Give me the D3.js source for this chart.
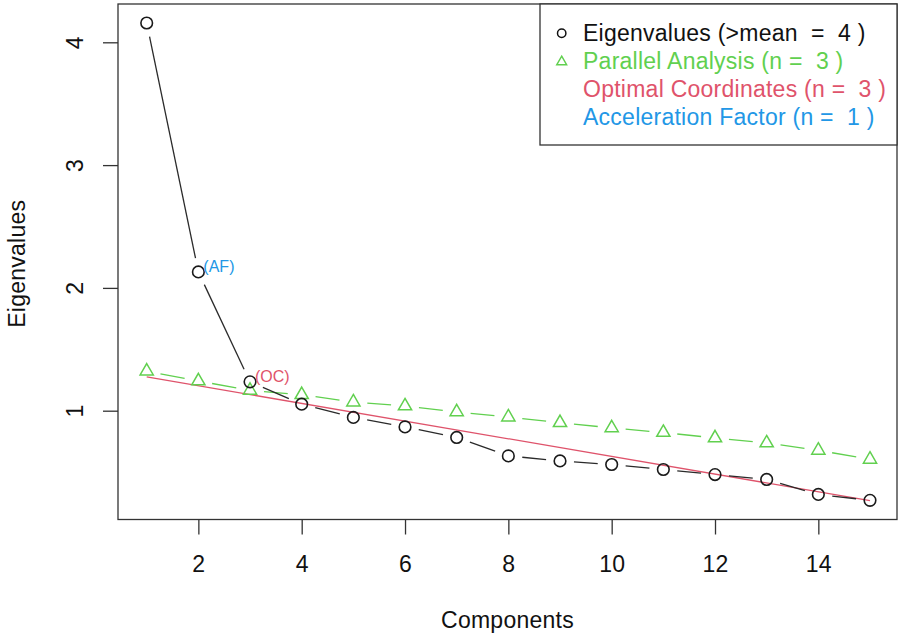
<!DOCTYPE html>
<html>
<head>
<meta charset="utf-8">
<script src="https://cdn.jsdelivr.net/npm/d3@7"></script>
<style>
  html, body { margin: 0; padding: 0; background: #fff; }
  svg { display: block; font-family: "Liberation Sans", Arial, Helvetica, sans-serif; }
  text { white-space: pre; }
</style>
</head>
<body>
<svg id="chart" width="900" height="635"></svg>
<script>
// ---- data ----
const components = [1,2,3,4,5,6,7,8,9,10,11,12,13,14,15];
const eigenvalues = [4.157, 2.13, 1.235, 1.053, 0.945, 0.868, 0.782, 0.632, 0.591, 0.562, 0.521, 0.480, 0.440, 0.318, 0.270];
const parallel = [1.322, 1.242, 1.165, 1.130, 1.070, 1.038, 0.990, 0.948, 0.902, 0.860, 0.822, 0.778, 0.737, 0.677, 0.604];
const ocLineX = [1, 15];
const ocLineY = [1.275, 0.268];
const xTicks = [2,4,6,8,10,12,14];
const yTicks = [1,2,3,4];
const legendLabels = ["Eigenvalues (>mean  =  4 )", "Parallel Analysis (n =  3 )", "Optimal Coordinates (n =  3 )", "Acceleration Factor (n =  1 )"];
const legendSymbols = ["circle", "triangle", "none", "none"];
const legendColors = ["#111111", "#61D04F", "#DF536B", "#2297E6"];
const pointLabels = [{comp: 2, text: "(AF)", color: "#2297E6"}, {comp: 3, text: "(OC)", color: "#DF536B"}];
const xTitle = "Components";
const yTitle = "Eigenvalues";

// ---- layout ----
const svg = d3.select("#chart");
const box = {left: 118, top: 4, right: 897, bottom: 519.5};
const x = d3.scaleLinear().domain([1, 15]).range([146.7, 870]);
const y = d3.scaleLinear().domain([1, 4]).range([410.7, 42.3]);
const FONT = 23, LS = "0.25px";

function trianglePath(cx, cy, half) {
  const xc = half / 1.3468;
  const r = 1.5551 * xc, yc = 0.7776 * xc;
  return `M${cx},${cy - r}L${cx + half},${cy + yc}L${cx - half},${cy + yc}Z`;
}
function gappedSegments(xs, ys, gap) {
  const segs = [];
  for (let i = 0; i < xs.length - 1; i++) {
    const x0 = x(xs[i]), y0 = y(ys[i]), x1 = x(xs[i+1]), y1 = y(ys[i+1]);
    const dx = x1 - x0, dy = y1 - y0, L = Math.hypot(dx, dy);
    if (L <= 2 * gap) continue;
    const ux = dx / L, uy = dy / L;
    segs.push({i, x1: x0 + ux * gap, y1: y0 + uy * gap, x2: x1 - ux * gap, y2: y1 - uy * gap});
  }
  return segs;
}

// ---- OC red line ----
svg.append("path")
  .attr("d", d3.line().x(d => x(d[0])).y(d => y(d[1]))(ocLineX.map((v, i) => [v, ocLineY[i]])))
  .attr("fill", "none").attr("stroke", "#DF536B").attr("stroke-width", 1.3);

// ---- parallel analysis (green dashed, triangles) ----
svg.append("g").selectAll("line").data(gappedSegments(components, parallel, 14)).join("line")
  .attr("x1", d => d.x1).attr("y1", d => d.y1).attr("x2", d => d.x2).attr("y2", d => d.y2)
  .attr("stroke", "#61D04F").attr("stroke-width", 1.3);
svg.append("g").selectAll("path").data(components).join("path")
  .attr("d", (c, i) => trianglePath(x(c), y(parallel[i]), 6.6))
  .attr("fill", "none").attr("stroke", "#61D04F").attr("stroke-width", 1.5);

// ---- eigenvalues (black, circles) ----
svg.append("g").selectAll("line").data(gappedSegments(components, eigenvalues, 14)).join("line")
  .attr("x1", d => d.x1).attr("y1", d => d.y1).attr("x2", d => d.x2).attr("y2", d => d.y2)
  .attr("stroke", "#2a2a2a").attr("stroke-width", 1.3);
svg.append("g").selectAll("circle").data(components).join("circle")
  .attr("cx", c => x(c)).attr("cy", (c, i) => y(eigenvalues[i])).attr("r", 5.8)
  .attr("fill", "none").attr("stroke", "#1a1a1a").attr("stroke-width", 1.6);

// ---- point labels ----
svg.append("g").selectAll("text").data(pointLabels).join("text")
  .attr("x", d => x(d.comp) + 5).attr("y", d => y(eigenvalues[d.comp - 1]) + 0.5)
  .attr("fill", d => d.color).attr("font-size", 16).text(d => d.text);

// ---- axes ----
const xAxis = svg.append("g").attr("transform", `translate(0,${box.bottom})`)
  .call(d3.axisBottom(x).tickValues(xTicks).tickSize(15).tickFormat(d3.format("d")));
xAxis.select(".domain").remove();
xAxis.selectAll(".tick line").attr("stroke", "#333").attr("stroke-width", 1.3);
xAxis.selectAll(".tick text").attr("y", 52.5).attr("dy", 0)
  .attr("font-size", FONT).attr("font-family", null).attr("fill", "#111").style("letter-spacing", LS);

const yAxis = svg.append("g").attr("transform", `translate(${box.left},0)`)
  .call(d3.axisLeft(y).tickValues(yTicks).tickSize(15).tickFormat(d3.format("d")));
yAxis.select(".domain").remove();
yAxis.selectAll(".tick line").attr("stroke", "#333").attr("stroke-width", 1.3);
yAxis.selectAll(".tick text").attr("x", null).attr("dy", 0)
  .attr("transform", "translate(-35,0) rotate(-90)").attr("text-anchor", "middle")
  .attr("font-size", FONT).attr("font-family", null).attr("fill", "#111");

// ---- plot box ----
svg.append("rect").attr("x", box.left).attr("y", box.top)
  .attr("width", box.right - box.left).attr("height", box.bottom - box.top)
  .attr("fill", "none").attr("stroke", "#333").attr("stroke-width", 1.3);

// ---- axis titles ----
svg.append("text").attr("x", (box.left + box.right) / 2).attr("y", 627.5)
  .attr("text-anchor", "middle").attr("font-size", FONT).attr("fill", "#111")
  .style("letter-spacing", LS).text(xTitle);
svg.append("text").attr("transform", `translate(24.5,${(box.top + box.bottom) / 2 + 2}) rotate(-90)`)
  .attr("text-anchor", "middle").attr("font-size", FONT).attr("fill", "#111")
  .style("letter-spacing", LS).text(yTitle);

// ---- legend ----
const lg = svg.append("g");
lg.append("rect").attr("x", 540).attr("y", box.top).attr("width", box.right - 540).attr("height", 141)
  .attr("fill", "#fff").attr("stroke", "#333").attr("stroke-width", 1.3);
const rows = lg.selectAll("g.row").data(legendLabels).join("g").attr("class", "row")
  .attr("transform", (d, i) => `translate(0,${40.7 + i * 28.2})`);
rows.append("text").attr("x", 583).attr("y", 0).attr("font-size", FONT)
  .attr("fill", (d, i) => legendColors[i]).style("letter-spacing", LS).text(d => d);
rows.filter((d, i) => legendSymbols[i] === "circle").append("circle")
  .attr("cx", 561.7).attr("cy", -7.5).attr("r", 4.2)
  .attr("fill", "none").attr("stroke", legendColors[0]).attr("stroke-width", 1.5);
rows.filter((d, i) => legendSymbols[i] === "triangle").append("path")
  .attr("d", trianglePath(561.7, -7, 5))
  .attr("fill", "none").attr("stroke", legendColors[1]).attr("stroke-width", 1.4);
</script>
</body>
</html>
